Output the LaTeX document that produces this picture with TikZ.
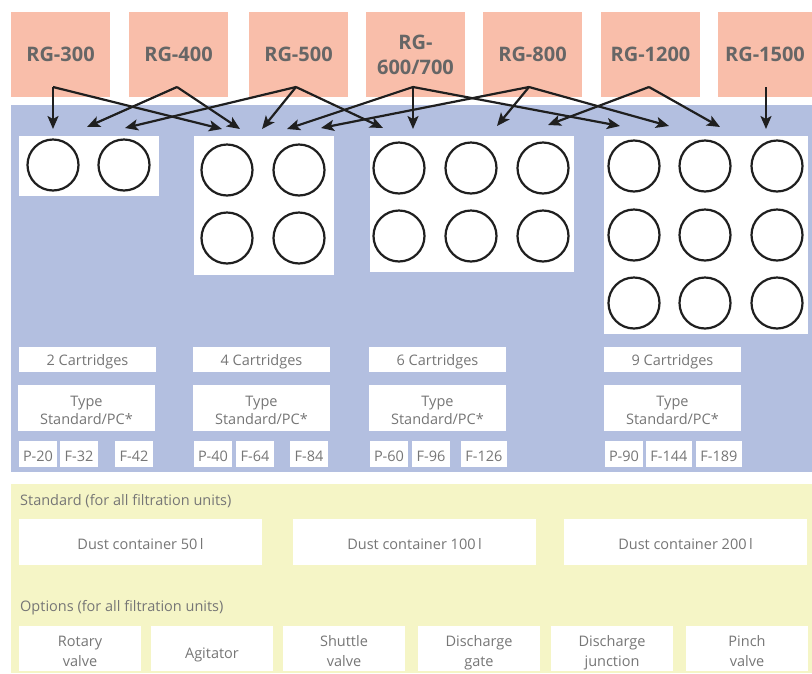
\documentclass[tikz,border=0pt]{standalone}
\usepackage{fontspec}
\setmainfont{Open Sans}
\usetikzlibrary{arrows.meta}
\definecolor{salmon}{HTML}{F9BEAA}
\definecolor{bluebg}{HTML}{B3BFE0}
\definecolor{yellowbg}{HTML}{F5F5C6}
\definecolor{hdrtext}{HTML}{666666}
\definecolor{lbltext}{HTML}{767676}
% box with separately placed text: #1 box style, #2 name, #3..#6 corners, #7 text style, #8 text
\newcommand\rbox[8]{%
  \node[#1, minimum width={(#5-#3)*1pt}, minimum height={(#6-#4)*1pt}] (#2) at ({(#3+#5)/2},{(#4+#6)/2}) {};
  \node[#7] (#2t) at (#2.center) {#8};}
\tikzset{
  hdrbox/.style={fill=salmon, draw=none, inner sep=0pt},
  hdrtxt/.style={inner sep=0pt, align=center, text=hdrtext,
    font=\bfseries\fontsize{20}{25}\selectfont},
  wbox/.style={fill=white, draw=none, inner sep=0pt},
  lbl/.style={inner sep=0pt, align=center, text=lbltext, yshift=-2.5pt,
    font=\fontsize{14.5}{18}\selectfont},
  opt/.style={inner sep=0pt, align=center, text=lbltext, yshift=-5.5pt,
    font=\fontsize{14.5}{20}\selectfont,
    execute at begin node=\strut, execute at end node=\strut},
  cart/.style={circle, draw=black!88, line width=2.2pt, fill=white, minimum size=51pt, inner sep=0pt},
  arr/.style={draw=black!88, line width=2.2pt, -{Stealth[length=13pt, width=11pt, inset=3pt]}},
  sect/.style={anchor=west, inner sep=0pt, text=lbltext, font=\fontsize{14.5}{18}\selectfont}
}
\begin{document}
\begin{tikzpicture}[x=1pt,y=-1pt]
\useasboundingbox (0,0) rectangle (812,673);
% background regions
\fill[bluebg] (11,105) rectangle (812,472);
\fill[yellowbg] (11,484) rectangle (812,673);
% headers
\rbox{hdrbox}{h300}{11}{12}{110}{97}{hdrtxt}{RG-300}
\rbox{hdrbox}{h400}{129}{12}{228}{97}{hdrtxt}{RG-400}
\rbox{hdrbox}{h500}{249}{12}{348}{97}{hdrtxt}{RG-500}
\rbox{hdrbox}{h600}{366}{12}{465}{97}{hdrtxt}{RG-\\600/700}
\rbox{hdrbox}{h800}{483}{12}{582}{97}{hdrtxt}{RG-800}
\rbox{hdrbox}{h1200}{601}{12}{700}{97}{hdrtxt}{RG-1200}
\rbox{hdrbox}{h1500}{718}{12}{812}{97}{hdrtxt}{RG-1500}
% cartridge boxes
\rbox{wbox}{b2}{19}{136}{159}{196}{lbl}{}
\rbox{wbox}{b4}{194}{136}{334}{275}{lbl}{}
\rbox{wbox}{b6}{370}{136}{574}{272}{lbl}{}
\rbox{wbox}{b9}{604}{136}{808}{334}{lbl}{}
% circles
\node[cart] (c2a) at (53,165) {};
\node[cart] (c2b) at (124,165) {};
\foreach \x/\i in {227/a,299/b} \foreach \y/\j in {170/1,238/2} \node[cart] (c4\i\j) at (\x,\y) {};
\foreach \x/\i in {399/a,471/b,543/c} \foreach \y/\j in {168/1,236/2} \node[cart] (c6\i\j) at (\x,\y) {};
\foreach \x/\i in {634/a,705/b,777/c} \foreach \y/\j in {166/1,235/2,303/3} \node[cart] (c9\i\j) at (\x,\y) {};
% arrow origins
\coordinate (o300) at (53,87);
\coordinate (o400) at (177,87);
\coordinate (o500) at (296,87);
\coordinate (o600) at (413,87);
\coordinate (o800) at (529,87);
\coordinate (o1200) at (649,87);
\coordinate (o1500) at (766,87);
% arrow tips
\coordinate (t1) at (53,129);
\coordinate (t2) at (222,129);
\coordinate (t3) at (87,127);
\coordinate (t4) at (240,129);
\coordinate (t5) at (125,128);
\coordinate (t6) at (262,129);
\coordinate (t7) at (383,128);
\coordinate (t8) at (413,129);
\coordinate (t9) at (287,129);
\coordinate (t10) at (620,126);
\coordinate (t11) at (321,128);
\coordinate (t12) at (497,126);
\coordinate (t13) at (669,126);
\coordinate (t14) at (548,125);
\coordinate (t15) at (720,127);
\coordinate (t16) at (766,129);
\draw[arr] (o300) -- (t1);
\draw[arr] (o300) -- (t2);
\draw[arr] (o400) -- (t3);
\draw[arr] (o400) -- (t4);
\draw[arr] (o500) -- (t5);
\draw[arr] (o500) -- (t6);
\draw[arr] (o500) -- (t7);
\draw[arr] (o600) -- (t8);
\draw[arr] (o600) -- (t9);
\draw[arr] (o600) -- (t10);
\draw[arr] (o800) -- (t11);
\draw[arr] (o800) -- (t12);
\draw[arr] (o800) -- (t13);
\draw[arr] (o1200) -- (t14);
\draw[arr] (o1200) -- (t15);
\draw[arr] (o1500) -- (t16);
% cartridge labels
\rbox{wbox}{n2}{19}{347}{156}{372}{lbl}{2 Cartridges}
\rbox{wbox}{n4}{193}{347}{330}{372}{lbl}{4 Cartridges}
\rbox{wbox}{n6}{369}{347}{506}{372}{lbl}{6 Cartridges}
\rbox{wbox}{n9}{604}{347}{741}{372}{lbl}{9 Cartridges}
\rbox{wbox}{ty2}{18}{385}{155}{431}{lbl}{Type\\Standard/PC*}
\rbox{wbox}{ty4}{193}{385}{330}{431}{lbl}{Type\\Standard/PC*}
\rbox{wbox}{ty6}{369}{385}{506}{431}{lbl}{Type\\Standard/PC*}
\rbox{wbox}{ty9}{604}{385}{741}{431}{lbl}{Type\\Standard/PC*}
\rbox{wbox}{p20}{19}{441}{57}{467}{lbl}{P-20}
\rbox{wbox}{f32}{60}{441}{98}{467}{lbl}{F-32}
\rbox{wbox}{f42}{115}{441}{153}{467}{lbl}{F-42}
\rbox{wbox}{p40}{194}{441}{232}{467}{lbl}{P-40}
\rbox{wbox}{f64}{236}{441}{274}{467}{lbl}{F-64}
\rbox{wbox}{f84}{290}{441}{328}{467}{lbl}{F-84}
\rbox{wbox}{p60}{370}{441}{408}{467}{lbl}{P-60}
\rbox{wbox}{f96}{412}{441}{450}{467}{lbl}{F-96}
\rbox{wbox}{f126}{461}{441}{507}{467}{lbl}{F-126}
\rbox{wbox}{p90}{605}{441}{643}{467}{lbl}{P-90}
\rbox{wbox}{f144}{646}{441}{692}{467}{lbl}{F-144}
\rbox{wbox}{f189}{696}{441}{742}{467}{lbl}{F-189}
% standard section
\node[sect] (std) at (20,501.5) {Standard (for all filtration units)};
\rbox{wbox}{d50}{19}{519}{262}{565}{lbl}{Dust container 50\,l}
\rbox{wbox}{d100}{293}{519}{536}{565}{lbl}{Dust container 100\,l}
\rbox{wbox}{d200}{564}{519}{807}{565}{lbl}{Dust container 200\,l}
% options section
\node[sect] (opts) at (20,607.5) {Options (for all filtration units)};
\rbox{wbox}{rot}{19}{626}{141}{671}{opt}{Rotary\\valve}
\rbox{wbox}{agi}{151}{626}{273}{671}{opt}{Agitator}
\rbox{wbox}{shu}{283}{626}{405}{671}{opt}{Shuttle\\valve}
\rbox{wbox}{dga}{418}{626}{540}{671}{opt}{Discharge\\gate}
\rbox{wbox}{dju}{551}{626}{673}{671}{opt}{Discharge\\junction}
\rbox{wbox}{pin}{686}{626}{808}{671}{opt}{Pinch\\valve}
\end{tikzpicture}
\end{document}
